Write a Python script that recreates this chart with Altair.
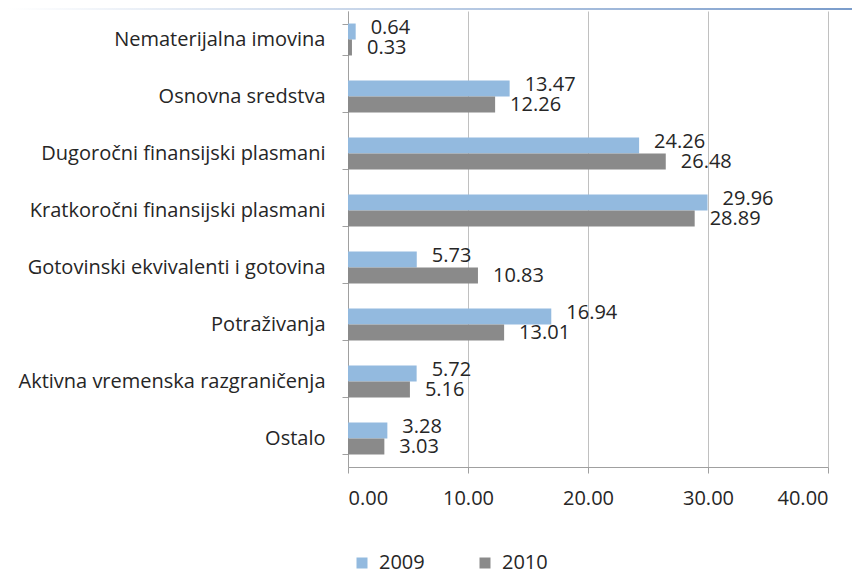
import altair as alt
import pandas as pd

categories = [
    "Nematerijalna imovina",
    "Osnovna sredstva",
    "Dugoročni finansijski plasmani",
    "Kratkoročni finansijski plasmani",
    "Gotovinski ekvivalenti i gotovina",
    "Potraživanja",
    "Aktivna vremenska razgraničenja",
    "Ostalo",
]
years = ["2009", "2010"]
values_2009 = [0.64, 13.47, 24.26, 29.96, 5.73, 16.94, 5.72, 3.28]
values_2010 = [0.33, 12.26, 26.48, 28.89, 10.83, 13.01, 5.16, 3.03]
x_ticks = [0, 10, 20, 30, 40]

rows = []
for c, a, b in zip(categories, values_2009, values_2010):
    rows.append({"category": c, "year": "2009", "value": a})
    rows.append({"category": c, "year": "2010", "value": b})
df = pd.DataFrame(rows)

FONT = "Open Sans"
TXT = "#262626"

y_enc = alt.Y(
    "category:N",
    sort=categories,
    title=None,
    scale=alt.Scale(paddingInner=0.44, paddingOuter=0.22),
    axis=alt.Axis(
        tickBand="extent",
        grid=False,
        labelFont=FONT,
        labelFontSize=20,
        labelColor=TXT,
        labelPadding=17,
        tickSize=6,
        tickColor="#A0A0A0",
        domainColor="#A0A0A0",
        labelLimit=400,
    ),
)
x_enc = alt.X(
    "value:Q",
    title=None,
    scale=alt.Scale(domain=[0, 40], nice=False),
    axis=alt.Axis(
        values=x_ticks,
        format=".2f",
        grid=True,
        gridColor="#C0C0C0",
        labelFont=FONT,
        labelFontSize=20,
        labelColor=TXT,
        labelPadding=15,
        tickSize=6,
        tickColor="#A0A0A0",
        domainColor="#A0A0A0",
    ),
)
yoff = alt.YOffset("year:N", sort=years)

bars = alt.Chart(df).mark_bar(size=16).encode(
    y=y_enc,
    x=x_enc,
    yOffset=yoff,
    color=alt.Color(
        "year:N",
        sort=years,
        scale=alt.Scale(domain=years, range=["#93BADF", "#8A8A8A"]),
        legend=alt.Legend(
            title=None,
            orient="none",
            legendX=4,
            legendY=542,
            direction="horizontal",
            symbolType="square",
            symbolSize=121,
            symbolStrokeWidth=0,
            labelFont=FONT,
            labelFontSize=20,
            labelColor=TXT,
            columnPadding=50,
            labelOffset=7,
        ),
    ),
)


def label_layer(year, dy):
    return alt.Chart(df).transform_filter(
        alt.datum.year == year
    ).mark_text(
        align="left", baseline="middle", dx=15, dy=dy, font=FONT, fontSize=20, color=TXT
    ).encode(
        y=alt.Y("category:N", sort=categories),
        x=alt.X("value:Q"),
        yOffset=yoff,
        text=alt.Text("value:Q", format=".2f"),
    )


labels09 = label_layer("2009", -4)
labels10 = label_layer("2010", 1)

grad = alt.Chart(pd.DataFrame({"a": [1]})).mark_rect(
    color=alt.LinearGradient(
        gradient="linear",
        stops=[
            alt.GradientStop(offset=0, color="#ffffff"),
            alt.GradientStop(offset=1, color="#7A9CCB"),
        ],
        x1=0, x2=1, y1=0, y2=0,
    )
).encode(
    x=alt.value(-340), x2=alt.value(504), y=alt.value(-3), y2=alt.value(-1)
)

chart = (
    alt.layer(bars, labels09, labels10, grad)
    .properties(
        width=480,
        height=456,
        autosize=alt.AutoSizeParams(type="none"),
        padding={"left": 340, "top": 3, "right": 24, "bottom": 109},
    )
    .configure_view(stroke=None)
)

chart.save("out.html", embed_options={"renderer": "svg", "actions": False})
